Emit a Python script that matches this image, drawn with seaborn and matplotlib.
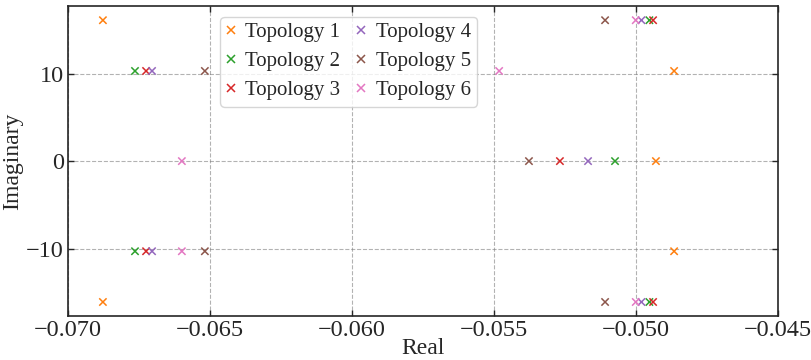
import numpy as np
import pandas as pd
import matplotlib
matplotlib.use("Agg")
import matplotlib.pyplot as plt
import seaborn as sns

# Autovalori (parte reale / immaginaria) per ciascuna topologia
topo1_real = [-0.06877, -0.06877, -0.04866, -0.04866, -0.04930]
topo1_imag = [16.1, -16.1, 10.3, -10.3, 0.0]

topo2_real = [-0.06764, -0.06764, -0.05074, -0.04953, -0.04953]
topo2_imag = [10.3, -10.3, 0.0, 16.1, -16.1]

topo3_real = [-0.06725, -0.06725, -0.05268, -0.04940, -0.04940]
topo3_imag = [10.3, -10.3, 0.0, 16.1, -16.1]

topo4_real = [-0.06704, -0.06704, -0.05169, -0.04981, -0.04981]
topo4_imag = [10.3, -10.3, 0.0, 16.1, -16.1]

topo5_real = [-0.06518, -0.06518, -0.05377, -0.05109, -0.05109]
topo5_imag = [10.3, -10.3, 0.0, 16.1, -16.1]

topo6_real = [-0.06599, -0.06599, -0.05482, -0.05001, -0.05001]
topo6_imag = [0.0, -10.3, 10.3, 16.1, -16.1]

labels = ["Topology 1", "Topology 2", "Topology 3",
          "Topology 4", "Topology 5", "Topology 6"]
colors = ["tab:orange", "tab:green", "tab:red",
          "tab:purple", "tab:brown", "tab:pink"]

reals = [topo1_real, topo2_real, topo3_real, topo4_real, topo5_real, topo6_real]
imags = [topo1_imag, topo2_imag, topo3_imag, topo4_imag, topo5_imag, topo6_imag]

rows = []
for lab, re, im in zip(labels, reals, imags):
    for r, i in zip(re, im):
        rows.append({"topology": lab, "real": r, "imag": i})
df = pd.DataFrame(rows)

sns.set_style("ticks")
plt.rcParams["font.family"] = ["Liberation Serif", "DejaVu Serif"]
plt.rcParams["xtick.direction"] = "in"
plt.rcParams["ytick.direction"] = "in"

fig = plt.figure(figsize=(8.12, 3.6), dpi=100)
ax = fig.add_axes([0.0837, 0.122, 0.8745, 0.861])

sns.scatterplot(data=df, x="real", y="imag", hue="topology",
                hue_order=labels, palette=colors, marker="x",
                s=28, linewidth=1.1, ax=ax)

ax.set_xlim(-0.070, -0.045)
ax.set_xticks([-0.070, -0.065, -0.060, -0.055, -0.050, -0.045])
ax.set_yticks([-10, 0, 10])
ax.tick_params(labelsize=17.5, top=True, right=True, length=4, width=1, pad=3)
ax.set_xlabel("Real", fontsize=17, labelpad=-2)
ax.set_ylabel("Imaginary", fontsize=17, labelpad=2)
ax.grid(True, linestyle="--", color="gray", alpha=0.6, linewidth=0.8)
for sp in ax.spines.values():
    sp.set_linewidth(1.2)

ax.legend(ncol=2, loc="upper left", bbox_to_anchor=(0.2, 1.0),
          fontsize=15, handlelength=0.4, handletextpad=0.5,
          columnspacing=0.8, labelspacing=0.45, borderpad=0.3)

fig.savefig("out.png", dpi=100)
